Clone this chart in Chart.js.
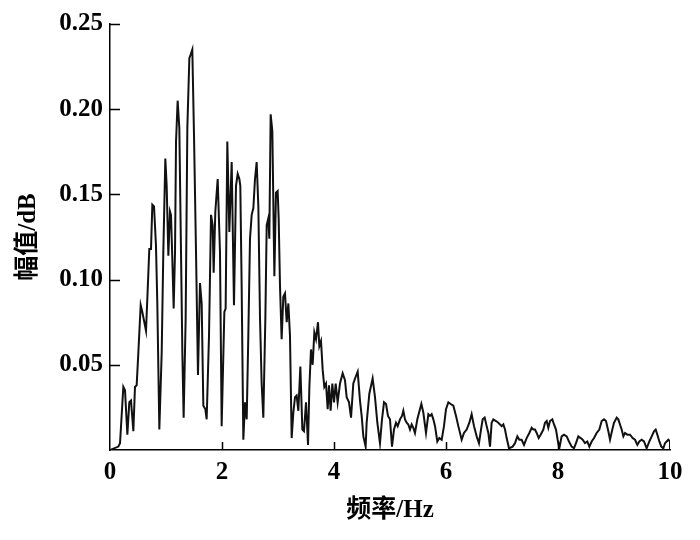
<!DOCTYPE html>
<html>
<head>
<meta charset="utf-8">
<script src="https://cdn.jsdelivr.net/npm/chart.js@4.4.1/dist/chart.umd.min.js"></script>
<style>
  html, body { margin: 0; padding: 0; background: #fff; }
</style>
</head>
<body>
<canvas id="spec" width="700" height="540"></canvas>
<script>
// 频率 (Hz)
var freq = [
  0, 0.149, 0.179, 0.238, 0.268, 0.310, 0.345, 0.375, 0.417, 0.446, 0.476, 0.506, 0.548, 0.577, 0.607, 0.643, 0.673, 0.702, 0.732, 0.756,
  0.786, 0.821, 0.845, 0.881, 0.923, 0.952, 0.988, 1.012, 1.042, 1.071, 1.089, 1.113, 1.137, 1.161, 1.179, 1.208, 1.238, 1.268, 1.292, 1.315,
  1.351, 1.381, 1.417, 1.440, 1.470, 1.500, 1.536, 1.571, 1.607, 1.637, 1.667, 1.702, 1.726, 1.768, 1.804, 1.833, 1.851, 1.881, 1.923,
  1.964, 1.994, 2.042, 2.065, 2.095, 2.131, 2.173, 2.214, 2.250, 2.280, 2.310, 2.327, 2.351, 2.381, 2.411, 2.441, 2.470, 2.500, 2.530, 2.560,
  2.589, 2.619, 2.649, 2.679, 2.708, 2.738, 2.774, 2.798, 2.827, 2.845, 2.869, 2.899, 2.935, 2.964, 2.994, 3.012, 3.036, 3.065, 3.095, 3.125,
  3.155, 3.185, 3.214, 3.244,
  3.274, 3.304, 3.333, 3.363, 3.399, 3.435, 3.464, 3.500, 3.536, 3.560, 3.589, 3.619, 3.649, 3.679, 3.714, 3.738, 3.768, 3.798, 3.827, 3.857,
  3.887, 3.911, 3.940, 3.970, 4.000, 4.030, 4.065, 4.107, 4.155, 4.196, 4.226, 4.268, 4.304, 4.345, 4.387, 4.423, 4.464, 4.494, 4.524, 4.565,
  4.583, 4.631, 4.690, 4.732, 4.774, 4.821, 4.857, 4.893, 4.929, 4.964, 5.000, 5.036, 5.071, 5.107, 5.137, 5.179, 5.214, 5.238, 5.268, 5.298,
  5.327, 5.357, 5.387, 5.417, 5.446, 5.488, 5.536, 5.560, 5.595, 5.643, 5.685, 5.714, 5.744, 5.774, 5.804, 5.845, 5.881, 5.923, 5.964, 6.000,
  6.042, 6.083, 6.131, 6.179, 6.220, 6.280, 6.321, 6.369, 6.417, 6.458, 6.500, 6.548, 6.589, 6.625, 6.655, 6.690, 6.726, 6.756, 6.786, 6.815,
  6.845, 6.893, 6.934, 6.994, 7.024, 7.054, 7.083, 7.125,
  7.190, 7.232, 7.274, 7.310, 7.351, 7.393, 7.440, 7.488, 7.530, 7.560, 7.589, 7.619, 7.655, 7.690, 7.738, 7.768, 7.798, 7.827, 7.857, 7.899,
  7.929, 7.964, 7.994, 8.024, 8.065, 8.107, 8.155, 8.196, 8.244, 8.286, 8.321, 8.363, 8.405, 8.441, 8.482, 8.524, 8.560, 8.601, 8.643, 8.690,
  8.738, 8.780, 8.821, 8.857, 8.899, 8.929, 8.970, 9.000, 9.048, 9.077, 9.107, 9.137, 9.167, 9.196, 9.238, 9.286, 9.333, 9.375, 9.417, 9.452,
  9.494, 9.536, 9.583, 9.631, 9.673, 9.714, 9.744, 9.774, 9.810, 9.845, 9.881, 9.911, 9.940, 9.970, 10.0, 10.0
];
// 幅值 (dB)
var amp = [
  0, 0.002, 0.004, 0.037, 0.035, 0.009, 0.028, 0.029, 0.011, 0.037, 0.038, 0.057, 0.085, 0.081, 0.076, 0.070, 0.094, 0.118, 0.118, 0.144,
  0.143, 0.120, 0.086, 0.012, 0.057, 0.116, 0.171, 0.155, 0.114, 0.140, 0.138, 0.112, 0.083, 0.116, 0.181, 0.205, 0.189, 0.116, 0.057, 0.019,
  0.077, 0.189, 0.230, 0.232, 0.235, 0.185, 0.116, 0.044, 0.098, 0.086, 0.026, 0.024, 0.018, 0.067, 0.138, 0.132, 0.104, 0.140, 0.159,
  0.116, 0.014, 0.081, 0.083, 0.181, 0.128, 0.169, 0.085, 0.155, 0.162, 0.159, 0.155, 0.096, 0.006, 0.028, 0.018, 0.067, 0.124, 0.138, 0.142,
  0.159, 0.169, 0.143, 0.077, 0.039, 0.019, 0.077, 0.132, 0.136, 0.124, 0.197, 0.187, 0.102, 0.151, 0.152, 0.136, 0.096, 0.065, 0.090, 0.092,
  0.075, 0.086, 0.067, 0.007,
  0.022, 0.031, 0.032, 0.023, 0.049, 0.012, 0.011, 0.028, 0.003, 0.037, 0.059, 0.050, 0.069, 0.065, 0.075, 0.061, 0.064, 0.047, 0.037, 0.039,
  0.024, 0.038, 0.023, 0.039, 0.028, 0.039, 0.028, 0.039, 0.045, 0.041, 0.031, 0.028, 0.019, 0.039, 0.043, 0.046, 0.029, 0.020, 0.008, 0.002,
  0.016, 0.033, 0.042, 0.031, 0.016, 0.004, 0.018, 0.028, 0.027, 0.020, 0.018, 0.002, 0.012, 0.016, 0.014, 0.018, 0.020, 0.023, 0.018, 0.016,
  0.015, 0.012, 0.015, 0.013, 0.010, 0.018, 0.024, 0.027, 0.022, 0.010, 0.021, 0.020, 0.021, 0.018, 0.014, 0.005, 0.007, 0.006, 0.014, 0.024,
  0.028, 0.027, 0.026, 0.020, 0.014, 0.006, 0.010, 0.012, 0.016, 0.021, 0.014, 0.008, 0.004, 0.012, 0.018, 0.019, 0.014, 0.010, 0.002, 0.016,
  0.018, 0.017, 0.016, 0.014, 0.015, 0.012, 0.007, 0.001,
  0.002, 0.004, 0.008, 0.006, 0.006, 0.003, 0.007, 0.010, 0.013, 0.012, 0.012, 0.010, 0.007, 0.009, 0.012, 0.016, 0.017, 0.013, 0.017, 0.018,
  0.015, 0.012, 0.006, 0.001, 0.008, 0.009, 0.008, 0.005, 0.002, 0.001, 0.004, 0.008, 0.007, 0.006, 0.004, 0.005, 0.002, 0.005, 0.007, 0.010,
  0.012, 0.017, 0.018, 0.017, 0.011, 0.006, 0.012, 0.016, 0.019, 0.018, 0.015, 0.012, 0.008, 0.010, 0.009, 0.009, 0.007, 0.006, 0.003, 0.005,
  0.006, 0.005, 0.001, 0.005, 0.008, 0.011, 0.012, 0.009, 0.005, 0.002, 0.001, 0.004, 0.005, 0.006, 0.005, 0
];
var yTicks = [0.05, 0.10, 0.15, 0.20, 0.25];
var xTicks = [0, 2, 4, 6, 8, 10];

var pts = [];
for (let i = 0; i < freq.length; i++) {
    pts.push({x: freq[i], y: amp[i]});
}

var fontFam = "'Liberation Serif', 'Times New Roman', 'Noto Sans CJK SC', serif";

// inward tick marks
var innerTicks = {
    id: 'innerTicks',
    afterDraw: function(chart) {
        var ctx = chart.ctx;
        var xs = chart.scales.x, ys = chart.scales.y;
        var a = chart.chartArea;
        ctx.save();
        ctx.strokeStyle = '#000';
        ctx.lineWidth = 1.5;
        ctx.beginPath();
        yTicks.forEach(function(v) {
            var py = Math.round(ys.getPixelForValue(v)) + 0.5;
            ctx.moveTo(a.left, py);
            ctx.lineTo(a.left + 10, py);
        });
        xTicks.slice(1, -1).forEach(function(v) {
            var px = Math.round(xs.getPixelForValue(v)) + 0.5;
            ctx.moveTo(px, a.bottom);
            ctx.lineTo(px, a.bottom - 8);
        });
        ctx.stroke();
        ctx.restore();
    }
};

new Chart('spec', {
    type: 'line',
    data: {
        datasets: [{
            data: pts,
            borderColor: '#111',
            borderWidth: 2,
            pointRadius: 0,
            tension: 0,
            fill: false
        }]
    },
    options: {
        responsive: false,
        animation: false,
        parsing: false,
        layout: { padding: { left: 0, top: 24, right: 30, bottom: 0 } },
        plugins: { legend: { display: false }, tooltip: { enabled: false } },
        scales: {
            x: {
                type: 'linear',
                min: 0,
                max: 10,
                afterBuildTicks: function(s) { s.ticks = xTicks.map(function(v) { return {value: v}; }); },
                afterFit: function(s) { s.height = 90; },
                grid: { display: false, drawTicks: false },
                border: { display: true, color: '#000', width: 1.5 },
                ticks: {
                    padding: 8,
                    color: '#000',
                    maxRotation: 0,
                    font: { family: fontFam, size: 25, weight: 'bold' },
                    callback: function(v) { return v; }
                },
                title: {
                    display: true,
                    text: '频率/Hz',
                    color: '#000',
                    padding: { top: 0, bottom: 14 },
                    font: { family: fontFam, size: 25, weight: 'bold' }
                }
            },
            y: {
                min: 0,
                max: 0.25,
                afterBuildTicks: function(s) { s.ticks = yTicks.map(function(v) { return {value: v}; }); },
                afterFit: function(s) { s.width = 110; },
                grid: { display: false, drawTicks: false },
                border: { display: true, color: '#000', width: 1.5 },
                ticks: {
                    padding: 7,
                    color: '#000',
                    font: { family: fontFam, size: 25, weight: 'bold' },
                    callback: function(v) { return v.toFixed(2); }
                },
                title: {
                    display: true,
                    text: '幅值/dB',
                    color: '#000',
                    padding: { top: 14, bottom: 0 },
                    font: { family: fontFam, size: 25, weight: 'bold' }
                }
            }
        }
    },
    plugins: [innerTicks]
});
</script>
</body>
</html>
